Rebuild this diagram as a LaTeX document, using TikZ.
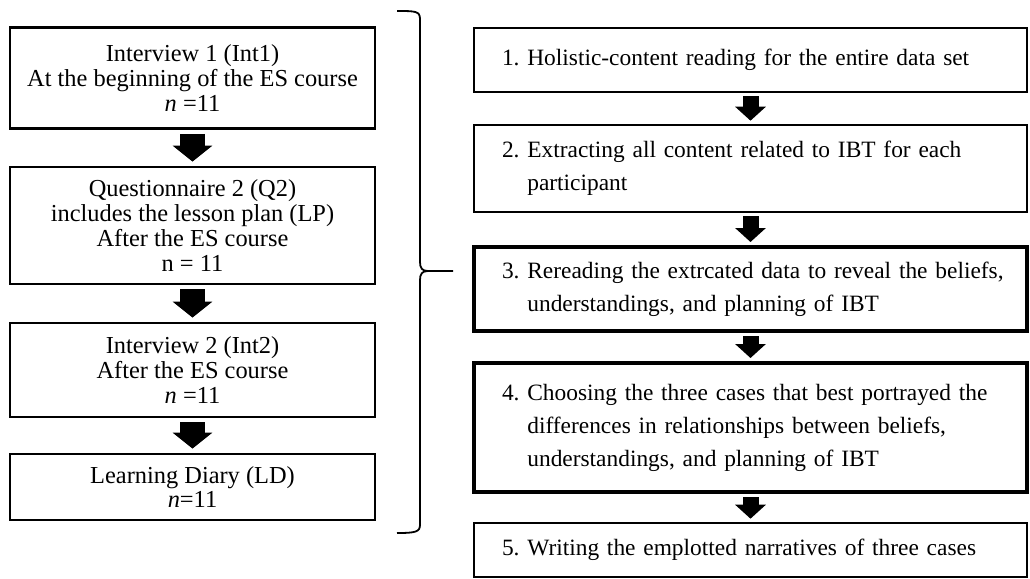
\documentclass[tikz,border=0pt]{standalone}
\usepackage{fontspec}
\setmainfont{Liberation Serif}
\usetikzlibrary{arrows.meta}

% numbered step text, continuation lines under the text
\newcommand{\stepnum}[2]{\leftskip=7pt\setbox0\hbox{#1\ }\hangindent=\wd0 \hangafter=1 \noindent\box0 #2\par}

\begin{document}
\begin{tikzpicture}[x=0.5pt, y=-0.5pt,
  leftbox/.style={draw, line width=1.4pt, minimum width=182.5pt, align=center, inner sep=0pt,
    font=\fontsize{12.2}{12.4}\selectfont},
  stepbox/.style={draw, line width=1.3pt, minimum width=276.5pt, text width=262.5pt,
    inner xsep=7pt, inner ysep=0pt, align=left, font=\fontsize{11.7}{16.5}\selectfont},
  bigarrow/.style={line width=12.5pt, -{Triangle[width=19.5pt, length=8pt]}, shorten <=2pt, shorten >=2pt},
  smallarrow/.style={line width=8pt, -{Triangle[width=15pt, length=7pt]}, shorten <=1.5pt, shorten >=1.5pt}]
\useasboundingbox (0,0) rectangle (1030,579);

% data sources
\node[leftbox, minimum height=50.5pt] (int1) at (192.5,78)
  {Interview 1 (Int1)\\At the beginning of the ES course\\\textit{n} =11};
\node[leftbox, minimum height=58.5pt] (q2) at (192.5,225.5)
  {Questionnaire 2 (Q2)\\includes the lesson plan (LP)\\After the ES course\\n = 11};
\node[leftbox, minimum height=47pt] (int2) at (192.5,370)
  {Interview 2 (Int2)\\After the ES course\\\textit{n} =11};
\node[leftbox, minimum height=33pt] (ld) at (192.5,487)
  {Learning Diary (LD)\\\textit{n}=11};

\draw[bigarrow] (int1) -- (q2);
\draw[bigarrow] (q2) -- (int2);
\draw[bigarrow] (int2) -- (ld);

% Brace
\draw[line width=0.9pt] (397,11) .. controls (415,11) and (420,11) .. (420,19) -- (420,262)
  .. controls (420,268) and (422,271) .. (428,271) -- (453,271);
\draw[line width=0.9pt] (428,271) .. controls (422,271) and (420,274) .. (420,280) -- (420,525)
  .. controls (420,532) and (415,533) .. (397,533);

% analysis steps
\node[stepbox, minimum height=32pt] (s1) at (750.5,60)
  {\stepnum{1.}{Holistic-content reading for the entire data set}};
\node[stepbox, minimum height=43.5pt] (s2) at (750.5,168.5)
  {\stepnum{2.}{Extracting all content related to IBT for each\newline participant}};
\node[stepbox, line width=2pt, minimum height=42pt] (s3) at (750.5,289)
  {\stepnum{3.}{Rereading the extrcated data to reveal the beliefs,\newline understandings, and planning of IBT}};
\node[stepbox, line width=2pt, minimum height=64.5pt] (s4) at (750.5,427.5)
  {\stepnum{4.}{Choosing the three cases that best portrayed the\newline differences in relationships between beliefs,\newline understandings, and planning of IBT}};
\node[stepbox, minimum height=27pt] (s5) at (750.5,550)
  {\stepnum{5.}{Writing the emplotted narratives of three cases}};

\draw[smallarrow] (s1) -- (s2);
\draw[smallarrow] (s2) -- (s3);
\draw[smallarrow] (s3) -- (s4);
\draw[smallarrow] (s4) -- (s5);
\end{tikzpicture}
\end{document}
